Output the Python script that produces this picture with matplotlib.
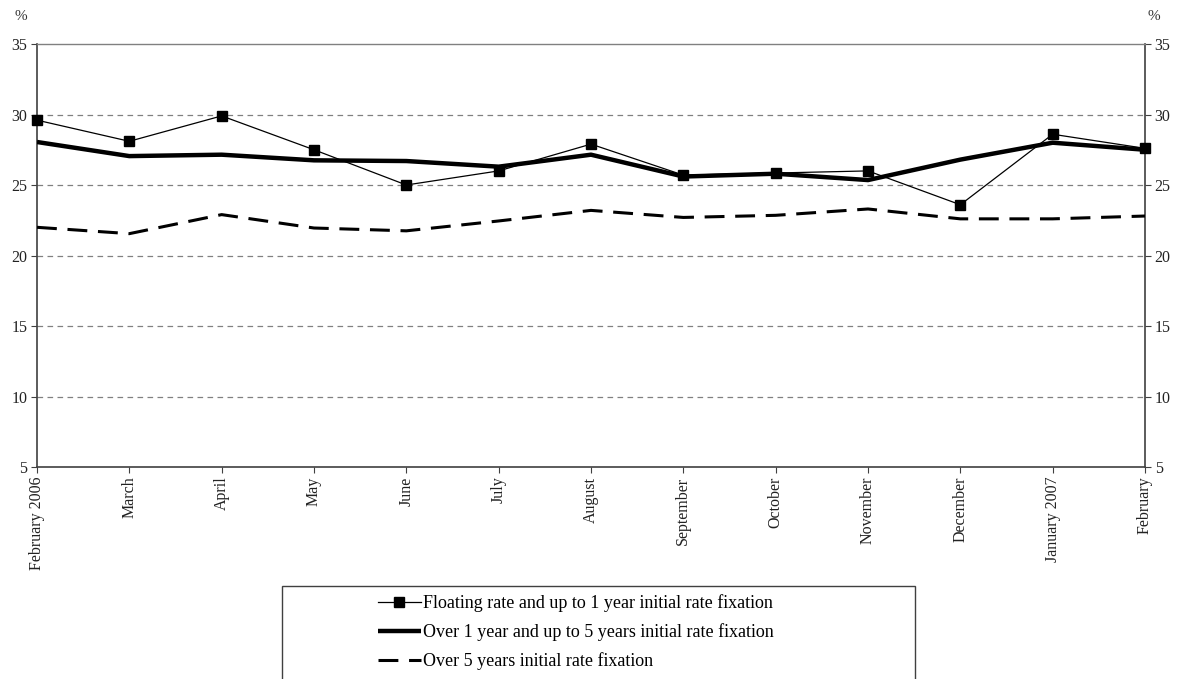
import matplotlib.pyplot as plt
from matplotlib.patches import Rectangle

plt.rcParams['font.family'] = ['Liberation Serif', 'DejaVu Serif']

months = ["February 2006", "March", "April", "May", "June", "July", "August",
          "September", "October", "November", "December", "January 2007", "February"]

# Interest rates by initial rate fixation, %
floating = [29.6, 28.1, 29.9, 27.5, 25.0, 26.0, 27.9, 25.7, 25.85, 26.0, 23.6, 28.6, 27.6]
one_to_five = [28.05, 27.05, 27.15, 26.75, 26.7, 26.3, 27.15, 25.6, 25.8, 25.35, 26.8, 28.0, 27.5]
over_five = [22.0, 21.55, 22.9, 21.95, 21.75, 22.45, 23.2, 22.7, 22.85, 23.3, 22.6, 22.6, 22.8]

yticks = [5, 10, 15, 20, 25, 30, 35]

fig = plt.figure(figsize=(11.82, 6.79), dpi=100)
ax = fig.add_axes([0.0313, 0.3122, 0.9374, 0.623])

x = range(len(months))

for y in yticks[1:-1]:
    ax.axhline(y, color="#808080", lw=0.9, ls=(0, (4.5, 3.5)), zorder=1)

ax.plot(x, one_to_five, color="black", lw=3.2, solid_capstyle="butt", zorder=3,
        label="Over 1 year and up to 5 years initial rate fixation")
ax.plot(x, floating, color="black", lw=0.9, marker="s", markersize=6.5, zorder=4,
        clip_on=False, label="Floating rate and up to 1 year initial rate fixation")
ax.plot(x, over_five, color="black", lw=2.2, ls=(0, (6.5, 3.5)), zorder=3,
        label="Over 5 years initial rate fixation")

ax.set_xlim(0, len(months) - 1)
ax.set_ylim(5, 35)
ax.set_yticks(yticks)
ax.set_xticks(list(x))
ax.set_xticklabels(months, rotation=90, fontsize=11.5, color="#222222")
ax.tick_params(axis="y", labelsize=11.5, labelcolor="#222222", direction="out", length=4,
               color="#404040", left=True, right=True, labelleft=True, labelright=True, pad=3)
ax.tick_params(axis="x", direction="out", length=4, color="#404040", pad=3)

for side in ["left", "right", "bottom"]:
    ax.spines[side].set_color("#404040")
    ax.spines[side].set_linewidth(1.2)
ax.spines["top"].set_color("#808080")
ax.spines["top"].set_linewidth(1.0)

fig.text(0.018, 0.975, "%", fontsize=11, ha="center", va="center", color="#333333")
fig.text(0.976, 0.975, "%", fontsize=11, ha="center", va="center", color="#333333")

# Legend box, running off the lower edge
fig.patches.append(Rectangle((282 / 1182, -0.05), (915 - 282) / 1182, 0.05 + (679 - 586) / 679,
                             transform=fig.transFigure, fill=False, edgecolor="#404040",
                             lw=1.0, figure=fig))

handles, labels = ax.get_legend_handles_labels()
order = [1, 0, 2]
fig.legend([handles[i] for i in order], [labels[i] for i in order],
           loc="upper center", bbox_to_anchor=(0.487, 0.143),
           frameon=False, fontsize=13, handlelength=2.4, handletextpad=0.1,
           labelspacing=0.6, borderpad=0.2)

fig.savefig("out.png", dpi=100)
